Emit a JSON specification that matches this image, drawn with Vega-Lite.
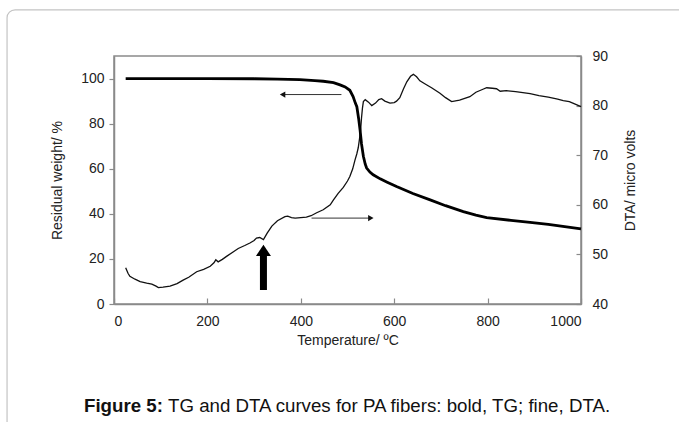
{
  "$schema": "https://vega.github.io/schema/vega-lite/v6.json",
  "width": 467,
  "height": 248,
  "autosize": {"type": "none"},
  "padding": {"left": 114, "top": 56, "right": 98, "bottom": 118},
  "background": "white",
  "config": {
    "font": "Liberation Sans",
    "view": {"stroke": "#8a8a8a", "strokeWidth": 1.5},
    "axis": {
      "grid": false,
      "labelFont": "Liberation Sans",
      "titleFont": "Liberation Sans",
      "labelFontSize": 14,
      "titleFontSize": 14,
      "labelColor": "#222",
      "titleColor": "#222",
      "titleFontWeight": "normal",
      "domainColor": "#8a8a8a",
      "domainWidth": 1.5,
      "tickColor": "#8a8a8a",
      "tickWidth": 1.2
    }
  },
  "title": {
    "text": "Figure 5:",
    "subtitle": "\u2800\u2800\u2800\u2800\u2800\u2800TG and DTA curves for PA fibers: bold, TG; fine, DTA.",
    "orient": "bottom",
    "anchor": "start",
    "frame": "group",
    "dx": -30,
    "offset": -34,
    "font": "Liberation Sans",
    "subtitleFont": "Liberation Sans",
    "fontSize": 18.7,
    "subtitleFontSize": 18.7,
    "fontWeight": "bold",
    "subtitleFontWeight": "normal",
    "color": "#111",
    "subtitleColor": "#111",
    "subtitlePadding": -18.7
  },
  "datasets": {
    "tg": [
      {"T": 25, "W": 100}, {"T": 100, "W": 100}, {"T": 200, "W": 100}, {"T": 300, "W": 99.9},
      {"T": 350, "W": 99.7}, {"T": 398, "W": 99.5}, {"T": 430, "W": 99.1}, {"T": 448, "W": 98.8},
      {"T": 470, "W": 98.2}, {"T": 484, "W": 97.2}, {"T": 495, "W": 96.3}, {"T": 505, "W": 94.8},
      {"T": 512, "W": 92}, {"T": 517, "W": 89}, {"T": 520, "W": 87.5}, {"T": 524, "W": 82},
      {"T": 527, "W": 77}, {"T": 530, "W": 71}, {"T": 534, "W": 65.5}, {"T": 538, "W": 62},
      {"T": 541, "W": 60.3}, {"T": 548, "W": 58.5}, {"T": 555, "W": 57.3}, {"T": 570, "W": 55.5},
      {"T": 585, "W": 54}, {"T": 605, "W": 52.1}, {"T": 640, "W": 49}, {"T": 677, "W": 46.2},
      {"T": 710, "W": 43.6}, {"T": 748, "W": 41}, {"T": 775, "W": 39.4}, {"T": 798, "W": 38.3},
      {"T": 850, "W": 37.1}, {"T": 891, "W": 36.2}, {"T": 930, "W": 35.3}, {"T": 965, "W": 34.3},
      {"T": 1000, "W": 33.3}
    ],
    "dta": [
      {"T": 25, "D": 47.3}, {"T": 30, "D": 46.2}, {"T": 34, "D": 45.6}, {"T": 45, "D": 45.0},
      {"T": 56, "D": 44.5}, {"T": 70, "D": 44.2}, {"T": 81, "D": 44.0}, {"T": 90, "D": 43.6},
      {"T": 95, "D": 43.3}, {"T": 105, "D": 43.4}, {"T": 120, "D": 43.6}, {"T": 135, "D": 44.1},
      {"T": 148, "D": 44.8}, {"T": 160, "D": 45.4}, {"T": 177, "D": 46.5}, {"T": 192, "D": 47.0},
      {"T": 206, "D": 47.6}, {"T": 214, "D": 48.3}, {"T": 218, "D": 48.9}, {"T": 223, "D": 48.5},
      {"T": 232, "D": 49.0}, {"T": 241, "D": 49.6}, {"T": 255, "D": 50.5}, {"T": 266, "D": 51.2},
      {"T": 280, "D": 51.8}, {"T": 291, "D": 52.3}, {"T": 300, "D": 52.8}, {"T": 305, "D": 53.3},
      {"T": 312, "D": 53.4}, {"T": 320, "D": 53.0}, {"T": 328, "D": 54.3}, {"T": 338, "D": 55.7},
      {"T": 350, "D": 56.8}, {"T": 366, "D": 57.6}, {"T": 372, "D": 57.7}, {"T": 380, "D": 57.4},
      {"T": 388, "D": 57.3}, {"T": 400, "D": 57.4}, {"T": 412, "D": 57.5}, {"T": 422, "D": 57.8},
      {"T": 434, "D": 58.4}, {"T": 448, "D": 59.0}, {"T": 463, "D": 60.0}, {"T": 470, "D": 61.0},
      {"T": 480, "D": 62.3}, {"T": 491, "D": 63.5}, {"T": 500, "D": 64.8}, {"T": 505, "D": 65.7},
      {"T": 511, "D": 67.2}, {"T": 516, "D": 69}, {"T": 520, "D": 70.3}, {"T": 523, "D": 71.5},
      {"T": 526, "D": 73.5}, {"T": 528, "D": 75}, {"T": 530, "D": 77.5}, {"T": 532, "D": 79.5},
      {"T": 534, "D": 80.8}, {"T": 538, "D": 81.2}, {"T": 545, "D": 80.7}, {"T": 552, "D": 80.0},
      {"T": 560, "D": 80.5}, {"T": 567, "D": 81.2}, {"T": 573, "D": 81.4}, {"T": 580, "D": 80.9},
      {"T": 591, "D": 80.5}, {"T": 600, "D": 80.6}, {"T": 605, "D": 80.9}, {"T": 612, "D": 81.6},
      {"T": 620, "D": 83.4}, {"T": 627, "D": 84.8}, {"T": 635, "D": 85.9}, {"T": 641, "D": 86.3},
      {"T": 648, "D": 85.8}, {"T": 655, "D": 85.0}, {"T": 669, "D": 84.2}, {"T": 680, "D": 83.6},
      {"T": 698, "D": 82.5}, {"T": 710, "D": 81.6}, {"T": 723, "D": 80.8}, {"T": 740, "D": 81.1},
      {"T": 762, "D": 81.8}, {"T": 775, "D": 82.7}, {"T": 790, "D": 83.3}, {"T": 798, "D": 83.6},
      {"T": 810, "D": 83.5}, {"T": 819, "D": 83.4}, {"T": 827, "D": 82.9}, {"T": 840, "D": 83.0},
      {"T": 860, "D": 82.8}, {"T": 891, "D": 82.4}, {"T": 910, "D": 82.0}, {"T": 930, "D": 81.7},
      {"T": 950, "D": 81.3}, {"T": 962, "D": 81.0}, {"T": 975, "D": 80.8}, {"T": 990, "D": 80.2},
      {"T": 1000, "D": 79.8}
    ],
    "arrowLines": [
      {"T": 487, "T2": 363, "W": 92.9},
      {"T": 423, "T2": 548, "W": 38.1}
    ],
    "arrowHeads": [
      {"T": 361, "W": 92.9, "dir": "left"},
      {"T": 550, "W": 38.1, "dir": "right"}
    ],
    "bigArrow": [
      {"T": 320, "W": 6.2, "W2": 22.5, "Wh": 23.8}
    ]
  },
  "layer": [
    {
      "data": {"values": [{"a": 1}]},
      "mark": {"type": "rect", "fill": null, "stroke": "#c4c4c4", "strokeWidth": 1.2, "cornerRadius": 8, "clip": false},
      "encoding": {
        "x": {"datum": -229, "type": "quantitative", "scale": {"domain": [0, 1000], "nice": false, "zero": false}},
        "x2": {"datum": 1250},
        "y": {"datum": 130.5, "type": "quantitative", "scale": {"domain": [0, 110], "nice": false, "zero": false}, "axis": null},
        "y2": {"datum": -56}
      }
    },
    {
      "data": {"name": "dta"},
      "mark": {"type": "line", "color": "#111", "strokeWidth": 1.3},
      "encoding": {
        "x": {"field": "T", "type": "quantitative", "scale": {"domain": [0, 1000], "nice": false, "zero": false},
          "axis": {"title": "Temperature/ ºC", "values": [0, 200, 400, 600, 800, 1000], "format": "d", "tickSize": -6, "labelPadding": 16, "titlePadding": 5}},
        "y": {"field": "D", "type": "quantitative", "scale": {"domain": [40, 90], "nice": false, "zero": false},
          "axis": {"orient": "right", "title": "DTA/ micro volts", "values": [40, 50, 60, 70, 80, 90], "format": "d", "tickSize": -5, "labelPadding": 16, "titleAngle": 270, "titlePadding": 30}}
      }
    },
    {
      "data": {"name": "tg"},
      "mark": {"type": "line", "color": "#000", "strokeWidth": 2.8},
      "encoding": {
        "x": {"field": "T", "type": "quantitative", "scale": {"domain": [0, 1000], "nice": false, "zero": false}},
        "y": {"field": "W", "type": "quantitative", "scale": {"domain": [0, 110], "nice": false, "zero": false},
          "axis": {"orient": "left", "title": "Residual weight/ %", "values": [0, 20, 40, 60, 80, 100], "format": "d", "tickSize": 5, "labelPadding": 5, "titlePadding": 16}}
      }
    },
    {
      "data": {"name": "arrowLines"},
      "mark": {"type": "rule", "color": "#333", "strokeWidth": 1},
      "encoding": {
        "x": {"field": "T", "type": "quantitative", "scale": {"domain": [0, 1000], "nice": false, "zero": false}},
        "x2": {"field": "T2"},
        "y": {"field": "W", "type": "quantitative", "scale": {"domain": [0, 110], "nice": false, "zero": false}, "axis": null}
      }
    },
    {
      "data": {"name": "arrowHeads"},
      "mark": {"type": "point", "filled": true, "color": "#111", "size": 40, "opacity": 1},
      "encoding": {
        "x": {"field": "T", "type": "quantitative", "scale": {"domain": [0, 1000], "nice": false, "zero": false}},
        "y": {"field": "W", "type": "quantitative", "scale": {"domain": [0, 110], "nice": false, "zero": false}, "axis": null},
        "shape": {"field": "dir", "type": "nominal", "scale": {"domain": ["left", "right"], "range": ["triangle-left", "triangle-right"]}, "legend": null}
      }
    },
    {
      "data": {"name": "bigArrow"},
      "mark": {"type": "rule", "color": "#000", "strokeWidth": 7},
      "encoding": {
        "x": {"field": "T", "type": "quantitative", "scale": {"domain": [0, 1000], "nice": false, "zero": false}},
        "y": {"field": "W", "type": "quantitative", "scale": {"domain": [0, 110], "nice": false, "zero": false}, "axis": null},
        "y2": {"field": "W2"}
      }
    },
    {
      "data": {"name": "bigArrow"},
      "mark": {"type": "point", "filled": true, "color": "#000", "opacity": 1, "size": 225, "shape": "M-1,0.75L0,-0.75L1,0.75Z"},
      "encoding": {
        "x": {"field": "T", "type": "quantitative", "scale": {"domain": [0, 1000], "nice": false, "zero": false}},
        "y": {"field": "Wh", "type": "quantitative", "scale": {"domain": [0, 110], "nice": false, "zero": false}, "axis": null}
      }
    }
  ],
  "resolve": {"scale": {"y": "independent", "shape": "independent"}}
}
